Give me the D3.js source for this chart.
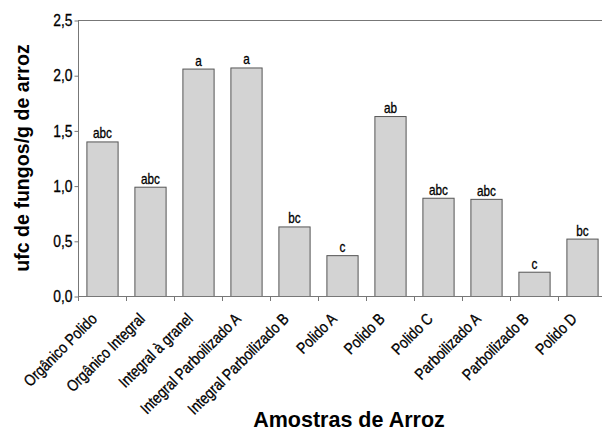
<!DOCTYPE html>
<html><head><meta charset="utf-8">
<script src="https://cdn.jsdelivr.net/npm/d3@7"></script>
<style>body{margin:0;background:#fff}</style>
</head><body>
<svg id="c" width="602" height="431"></svg>
<script>
const categories = ["Orgânico Polido","Orgânico Integral","Integral à granel","Integral Parboilizado A","Integral Parboilizado B","Polido A","Polido B","Polido C","Parboilizado A","Parboilizado B","Polido D"];
const values = [1.40, 0.99, 2.06, 2.07, 0.63, 0.37, 1.63, 0.89, 0.88, 0.22, 0.52];
const letters = ["abc","abc","a","a","bc","c","ab","abc","abc","c","bc"];
const yTicks = [0, 0.5, 1.0, 1.5, 2.0, 2.5];

(function(){
const svg = d3.select("#c");
const narrow = "'Liberation Sans',Arial,sans-serif";
const sx = 0.84;
const mL = 78, mR = 606, mT = 20, mB = 296;

const xBand = d3.scaleBand().domain(categories).range([mL, mR]).paddingInner(0.35).paddingOuter(0.175);
const xStep = d3.scaleBand().domain(categories).range([mL, mR]).padding(0);
const y = d3.scaleLinear().domain([0, 2.5]).range([mB, mT]);

svg.append("line").attr("x1", mL).attr("x2", 602).attr("y1", mT + 0.5).attr("y2", mT + 0.5).attr("stroke", "#777").attr("stroke-width", 1);

svg.selectAll("rect.bar").data(values).enter().append("rect")
  .attr("x", (d,i) => xBand(categories[i]) + 0.5)
  .attr("y", d => y(d) + 0.5)
  .attr("width", xBand.bandwidth())
  .attr("height", d => mB - y(d))
  .attr("fill", "#d3d3d3").attr("stroke", "#555").attr("stroke-width", 1);

svg.selectAll("text.let").data(values).enter().append("text")
  .attr("transform", (d,i) => `translate(${xBand(categories[i]) + xBand.bandwidth()/2 + 0.5},${y(d) - 3}) scale(${sx},1)`)
  .attr("text-anchor", "middle")
  .attr("font-family", narrow).attr("font-size", 14).attr("fill", "#000")
  .attr("stroke", "#000").attr("stroke-width", 0.3)
  .text((d,i) => letters[i]);

const yAxis = d3.axisLeft(y).tickValues(yTicks).tickSize(4).tickPadding(2)
  .tickFormat(d => d3.format(".1f")(d).replace(".", ","));
const gy = svg.append("g").attr("transform", `translate(${mL + 0.5},0.5)`).call(yAxis);
gy.select(".domain").attr("stroke", "#777").attr("d", `M0,${mT}V${mB}`);
gy.selectAll(".tick line").attr("stroke", "#777");
gy.selectAll(".tick text").attr("font-family", narrow).attr("font-size", 16.5).attr("fill", "#000")
  .attr("stroke", "#000").attr("stroke-width", 0.3)
  .attr("x", -6 / sx).attr("transform", `scale(${sx},1)`);

svg.append("line").attr("x1", mL).attr("x2", 602).attr("y1", mB + 0.5).attr("y2", mB + 0.5).attr("stroke", "#777");
const bounds = categories.map(c => xStep(c));
svg.selectAll("line.xt").data(bounds).enter().append("line")
  .attr("x1", d => d + 0.5).attr("x2", d => d + 0.5)
  .attr("y1", mB).attr("y2", mB + 5).attr("stroke", "#777");

svg.selectAll("text.xl").data(categories).enter().append("text")
  .attr("transform", c => `translate(${xStep(c) + xStep.bandwidth()/2 - 12},${mB + 16}) rotate(-45) scale(${sx},1)`)
  .attr("text-anchor", "end")
  .attr("dy", "0.7em")
  .attr("font-family", narrow).attr("font-size", 16).attr("fill", "#000")
  .attr("stroke", "#000").attr("stroke-width", 0.3)
  .text(c => c);

svg.append("text").attr("transform", `translate(29,158) rotate(-90)`)
  .attr("text-anchor", "middle").attr("font-family", "'Liberation Sans',Arial,sans-serif")
  .attr("font-weight", "bold").attr("font-size", 19.6).attr("fill", "#000")
  .text("ufc de fungos/g de arroz");
svg.append("text").attr("x", 349).attr("y", 427)
  .attr("text-anchor", "middle").attr("font-family", "'Liberation Sans',Arial,sans-serif")
  .attr("font-weight", "bold").attr("font-size", 21.5).attr("fill", "#000")
  .text("Amostras de Arroz");
})();
</script>
</body></html>
